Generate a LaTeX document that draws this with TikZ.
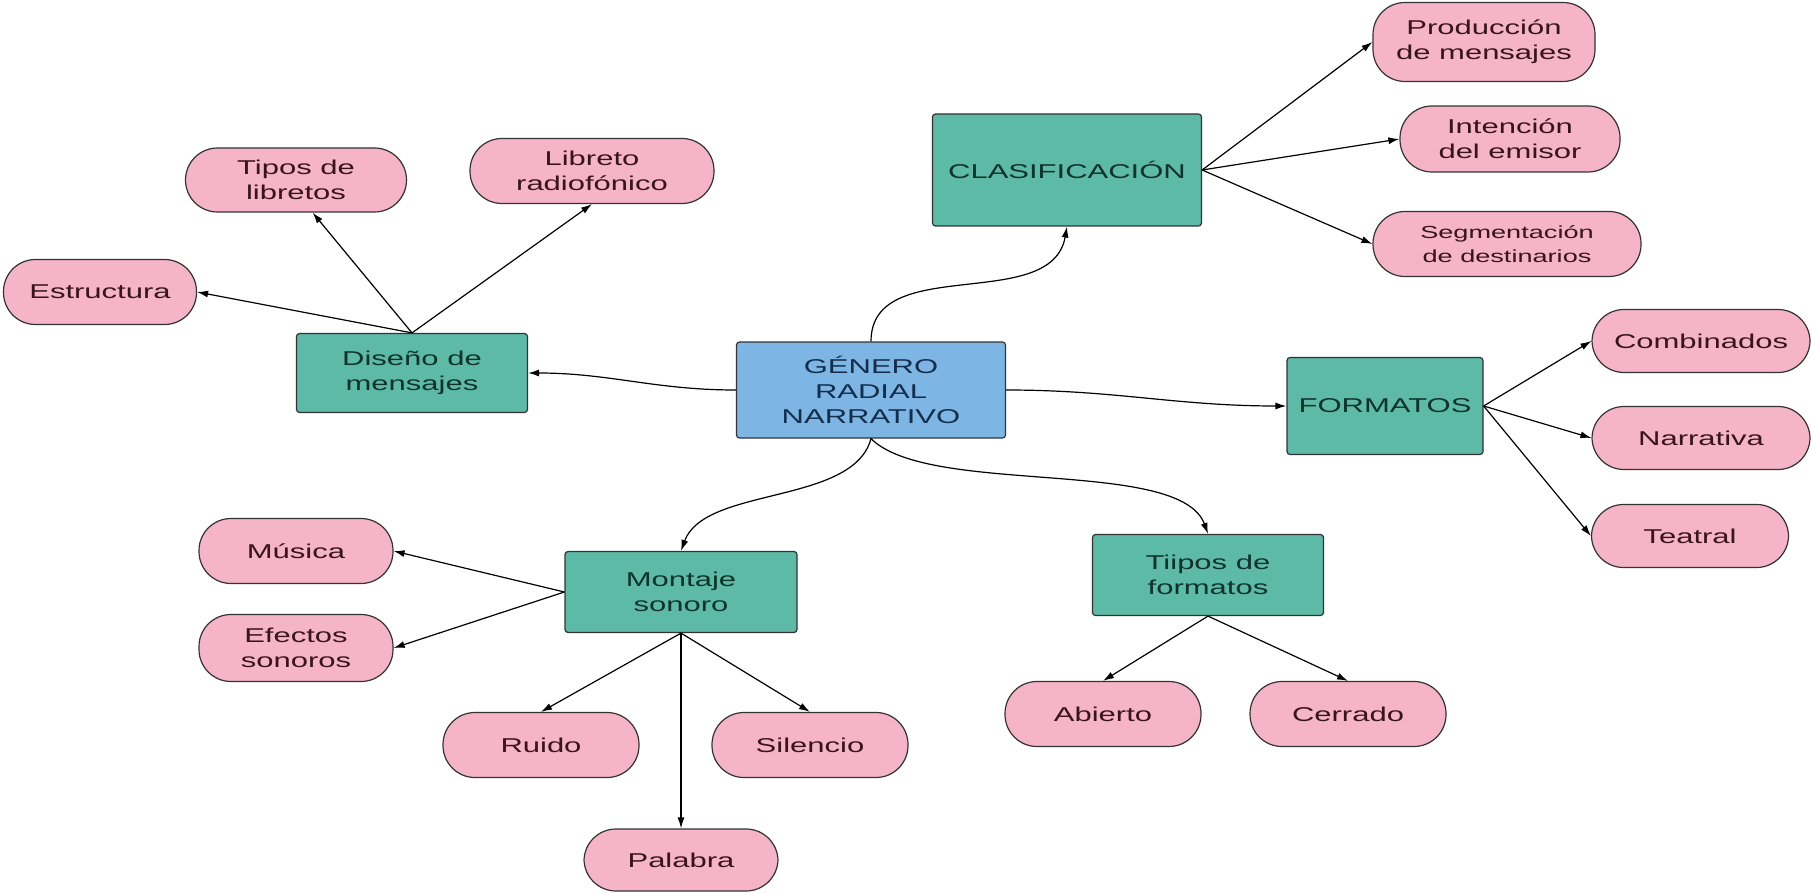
\documentclass[tikz,border=0pt]{standalone}
\usepackage{fontspec}
\setmainfont[FakeStretch=1.55]{Liberation Sans}
\usetikzlibrary{positioning,arrows.meta}
\definecolor{rootfill}{RGB}{125,182,228}
\definecolor{topicfill}{RGB}{92,186,166}
\definecolor{leaffill}{RGB}{245,180,199}
\definecolor{roottext}{RGB}{20,45,75}
\definecolor{topictext}{RGB}{16,50,42}
\definecolor{leaftext}{RGB}{55,20,30}

\begin{document}
\begin{tikzpicture}[x=1pt, y=-1pt, on grid, line width=1.2pt,
    >={Latex[length=11pt,width=7pt]}, font=\fontsize{20}{25}\selectfont,
    root/.style={rectangle, rounded corners=3pt, draw=black!80, fill=rootfill,
      text=roottext, align=center, minimum width=269pt, minimum height=96pt},
    topic/.style={rectangle, rounded corners=3pt, draw=black!80, fill=topicfill,
      text=topictext, align=center, minimum width=231pt, minimum height=81pt},
    leaf/.style={rectangle, rounded corners=32pt, draw=black!80, fill=leaffill,
      text=leaftext, align=center, minimum width=196pt, minimum height=65pt}]
    \useasboundingbox (0,0) rectangle (1812,893);
    \node[root] (gen) at (871,390) {GÉNERO\\RADIAL\\NARRATIVO};%
    % upper branch
    \node[topic, minimum width=269pt, minimum height=112pt] (clas) [above right=220pt and 196pt of gen] {CLASIFICACIÓN};%
    \node[leaf, minimum width=222pt, minimum height=79pt] (prod) [above right=128pt and 417pt of clas] {Producción\\de mensajes};%
    \node[leaf, minimum width=220pt, minimum height=66pt] (int) [above right=31pt and 443pt of clas] {Intención\\del emisor};%
    \node[leaf, minimum width=268pt, font=\fontsize{17.5}{24}\selectfont] (seg) [below right=74pt and 440pt of clas] {Segmentación\\de destinarios};%
    % left branch
    \node[topic, minimum height=79pt] (dis) [above left=17pt and 459pt of gen] {Diseño de\\mensajes};%
    \node[leaf, minimum width=221pt, minimum height=64pt] (tipos) [above left=193pt and 116pt of dis] {Tipos de\\libretos};%
    \node[leaf, minimum width=244pt] (lib) [above right=202pt and 180pt of dis] {Libreto\\radiofónico};%
    \node[leaf, minimum width=193pt] (est) [above left=81pt and 312pt of dis] {Estructura};%
    % right branch
    \node[topic, minimum width=196pt, minimum height=97pt] (form) [below right=16pt and 514pt of gen] {FORMATOS};%
    \node[leaf, minimum width=218pt, minimum height=63pt] (comb) [above right=65pt and 316pt of form] {Combinados};%
    \node[leaf, minimum width=218pt, minimum height=63pt] (narr) [below right=32pt and 316pt of form] {Narrativa};%
    \node[leaf, minimum width=197pt, minimum height=63pt] (teat) [below right=130pt and 305pt of form] {Teatral};%
    % lower branches
    \node[topic, minimum width=232pt] (mont) [below left=202pt and 190pt of gen] {Montaje\\sonoro};%
    \node[leaf, minimum width=194pt] (mus) [above left=41pt and 385pt of mont] {Música};%
    \node[leaf, minimum width=194pt, minimum height=67pt] (efec) [below left=56pt and 385pt of mont] {Efectos\\sonoros};%
    \node[leaf] (ruido) [below left=153pt and 140pt of mont] {Ruido};%
    \node[leaf] (sil) [below right=153pt and 129pt of mont] {Silencio};%
    \node[leaf, minimum width=194pt, minimum height=62pt] (pal) [below=268pt of mont] {Palabra};%
    \node[topic] (tform) [below right=185pt and 337pt of gen] {Tiipos de\\formatos};%
    \node[leaf] (abi) [below left=139pt and 105pt of tform] {Abierto};%
    \node[leaf] (cerr) [below right=139pt and 140pt of tform] {Cerrado};%
    \path[->] (gen.north) edge [out=90, in=-100] (clas.south)
    (gen.west) edge [out=180, in=0] (dis.east)
    (gen.east) edge [out=0, in=180] (form.west)
    (gen.south) edge [out=-105, in=70, looseness=0.8] (mont.north)
    edge [out=-45, in=110, looseness=0.6] (tform.north);
    \path[->] (clas.east) edge (prod.west) edge (int.west) edge (seg.west);
    \path[->] (dis.north) edge (est.east) edge (tipos.-63) edge (lib.south);
    \path[->] (form.east) edge (comb.west) edge (narr.west) edge (teat.west);
    \path[->] (mont.west) edge (mus.east) edge (efec.east);
    \path[->] (mont.south) edge (ruido.north) edge (pal.north) edge (sil.north);
    \path[->] (tform.south) edge (abi.north) edge (cerr.north);
  \end{tikzpicture}
\end{document}
